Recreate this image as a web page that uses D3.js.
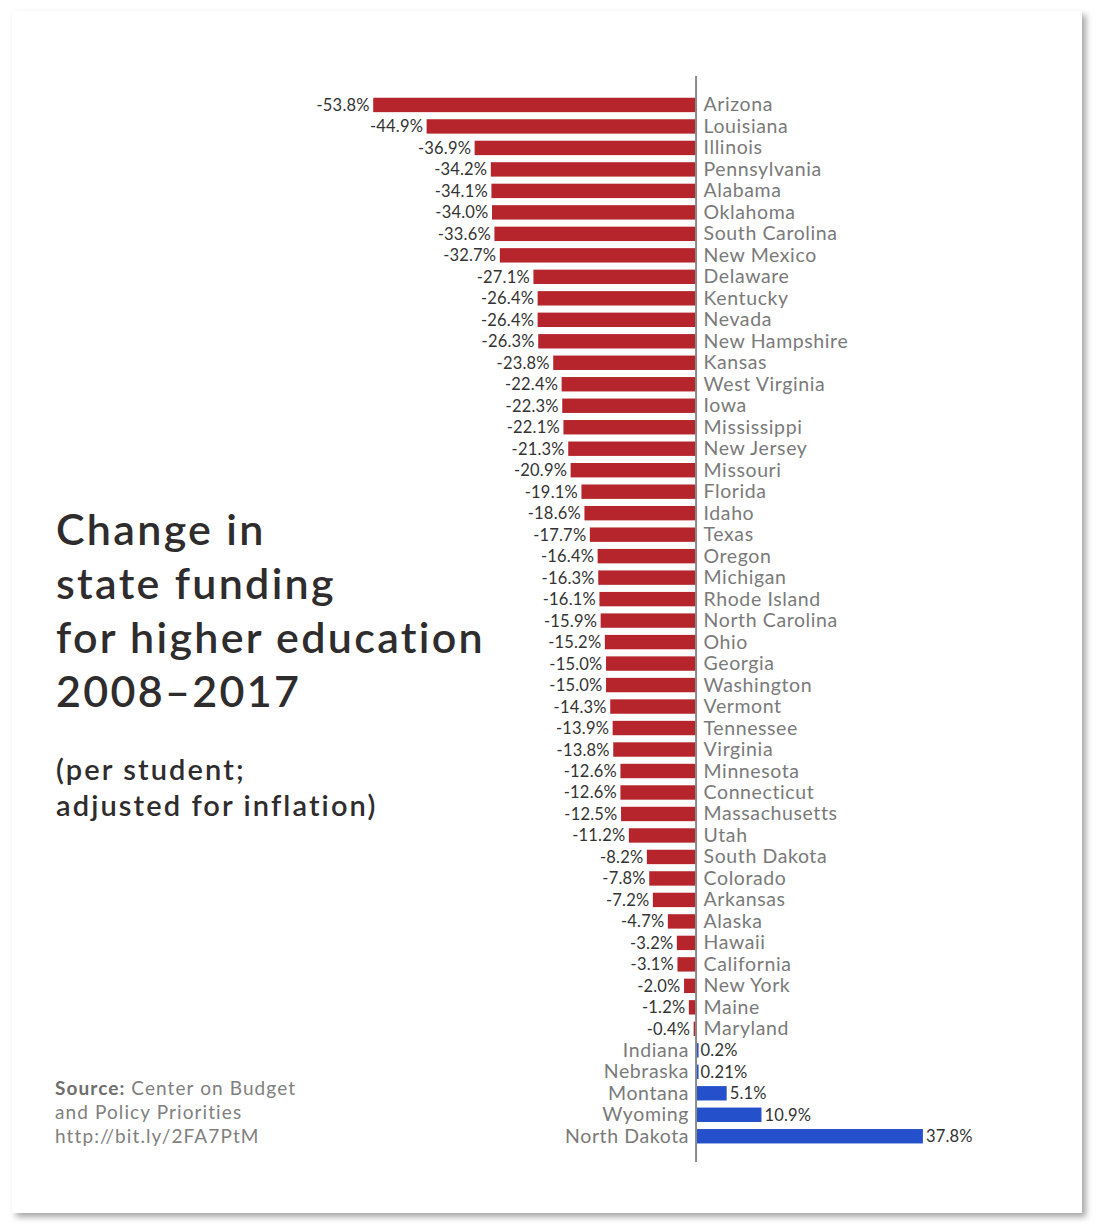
<!DOCTYPE html>
<html>
<head>
<meta charset="utf-8">
<script src="https://cdn.jsdelivr.net/npm/d3@7"></script>
<style>
  html, body { margin: 0; padding: 0; background: #fff; }
  svg { display: block; font-family: Lato, "Open Sans", sans-serif; }
</style>
</head>
<body>
<svg id="chart" width="1101" height="1232"></svg>
<script>
// states, top to bottom, and their change in funding (%)
const states = [
  'Arizona', 'Louisiana', 'Illinois', 'Pennsylvania', 'Alabama', 'Oklahoma',
  'South Carolina', 'New Mexico', 'Delaware', 'Kentucky', 'Nevada', 'New Hampshire',
  'Kansas', 'West Virginia', 'Iowa', 'Mississippi', 'New Jersey', 'Missouri',
  'Florida', 'Idaho', 'Texas', 'Oregon', 'Michigan', 'Rhode Island',
  'North Carolina', 'Ohio', 'Georgia', 'Washington', 'Vermont', 'Tennessee',
  'Virginia', 'Minnesota', 'Connecticut', 'Massachusetts', 'Utah', 'South Dakota',
  'Colorado', 'Arkansas', 'Alaska', 'Hawaii', 'California', 'New York',
  'Maine', 'Maryland', 'Indiana', 'Nebraska', 'Montana', 'Wyoming', 'North Dakota'
]

const changes = [
  -53.8, -44.9, -36.9, -34.2, -34.1, -34.0,
  -33.6, -32.7, -27.1, -26.4, -26.4, -26.3,
  -23.8, -22.4, -22.3, -22.1, -21.3, -20.9,
  -19.1, -18.6, -17.7, -16.4, -16.3, -16.1,
  -15.9, -15.2, -15.0, -15.0, -14.3, -13.9,
  -13.8, -12.6, -12.6, -12.5, -11.2, -8.2,
  -7.8, -7.2, -4.7, -3.2, -3.1, -2.0,
  -1.2, -0.4, 0.2, 0.21, 5.1, 10.9, 37.8
]

const titleLines = ['Change in', 'state funding', 'for higher education', '2008\u20132017']
const subtitleLines = ['(per student;', 'adjusted for inflation)']
const sourceLines = ['Center on Budget', 'and Policy Priorities', 'http://bit.ly/2FA7PtM']

const data = states.map((s, i) => ({ state: s, value: changes[i] }))

const svg = d3.select('#chart')

// card with drop shadow
const defs = svg.append('defs')
const shadow = defs.append('filter').attr('id', 'shadow')
  .attr('x', '-5%').attr('y', '-5%').attr('width', '110%').attr('height', '110%')
shadow.append('feDropShadow')
  .attr('dx', 4).attr('dy', 4).attr('stdDeviation', 3)
  .attr('flood-color', '#000').attr('flood-opacity', 0.35)

svg.append('rect')
  .attr('x', 12).attr('y', 11)
  .attr('width', 1070).attr('height', 1202)
  .attr('fill', '#fff')
  .attr('filter', 'url(#shadow)')

const x = d3.scaleLinear()
  .domain([d3.min(changes), d3.max(changes)])
  .range([373.2, 922.9])

const y = d3.scaleBand()
  .domain(states)
  .range([94.2, 1147])
  .paddingInner(0.33)
  .paddingOuter(0.165)

const fmt = v => {
  const d = Math.abs(Math.round(v * 10) - v * 10) > 1e-9 ? 2 : 1
  return v.toFixed(d) + '%'
}

const red = '#b5252b', blue = '#2550cb'

const rows = svg.append('g').attr('class', 'rows')
  .selectAll('g')
  .data(data)
  .join('g')

rows.append('rect')
  .attr('x', d => Math.min(x(0), x(d.value)))
  .attr('y', d => y(d.state))
  .attr('width', d => Math.max(2.5, Math.abs(x(d.value) - x(0))))
  .attr('height', y.bandwidth())
  .attr('fill', d => d.value < 0 ? red : blue)

// value labels
rows.append('text')
  .attr('x', d => d.value < 0 ? x(d.value) - 3.5 : Math.max(x(d.value), x(0) + 1.5) + 3)
  .attr('y', d => y(d.state) + y.bandwidth() / 2 + 6)
  .attr('text-anchor', d => d.value < 0 ? 'end' : 'start')
  .attr('font-size', 16.5)
  .attr('letter-spacing', 0.2)
  .attr('fill', '#333')
  .text(d => fmt(d.value))

// state labels on the opposite side of zero
rows.append('text')
  .attr('x', d => d.value < 0 ? x(0) + 7.5 : x(0) - 7)
  .attr('y', d => y(d.state) + y.bandwidth() / 2 + 6.5)
  .attr('text-anchor', d => d.value < 0 ? 'start' : 'end')
  .attr('font-size', 19.5)
  .attr('letter-spacing', 0.6)
  .attr('fill', '#7a7a7a')
  .text(d => d.state)

// zero line
svg.append('line')
  .attr('x1', x(0)).attr('x2', x(0))
  .attr('y1', 76).attr('y2', 1162)
  .attr('stroke', '#8a8a8a')
  .attr('stroke-width', 2)

// title
svg.append('g')
  .selectAll('text')
  .data(titleLines)
  .join('text')
  .attr('x', 56)
  .attr('y', (d, i) => 545 + i * 54)
  .attr('font-size', 43)
  .attr('font-weight', 600)
  .attr('letter-spacing', 2.3)
  .attr('fill', '#2f2c2d')
  .text(d => d)

svg.append('g')
  .selectAll('text')
  .data(subtitleLines)
  .join('text')
  .attr('x', 56)
  .attr('y', (d, i) => 780 + i * 36)
  .attr('font-size', 29)
  .attr('font-weight', 600)
  .attr('letter-spacing', 2.1)
  .attr('fill', '#2f2c2d')
  .text(d => d)

// source
const src = svg.append('g')
  .selectAll('text')
  .data(sourceLines)
  .join('text')
  .attr('x', 55)
  .attr('y', (d, i) => 1095 + i * 24)
  .attr('font-size', 19)
  .attr('letter-spacing', 1.1)
  .attr('fill', '#808080')

src.filter((d, i) => i === 0)
  .append('tspan')
  .attr('font-weight', 700)
  .attr('fill', '#6e6e6e')
  .text('Source: ')

src.append('tspan').text(d => d)
</script>
</body>
</html>
